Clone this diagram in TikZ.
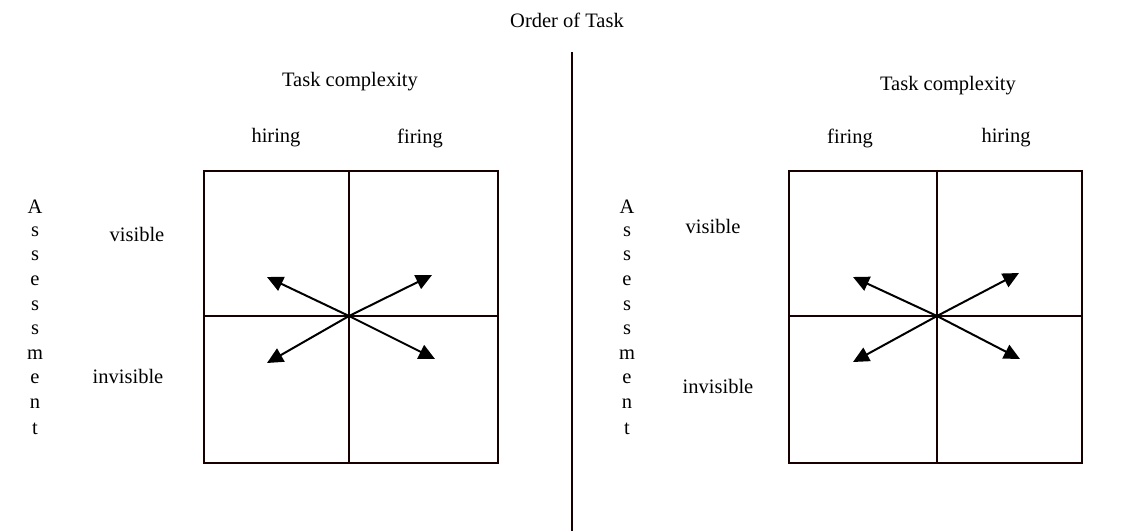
\documentclass[tikz,border=0pt]{standalone}
\usepackage{fontspec}
\setmainfont{Liberation Serif}
\usetikzlibrary{arrows.meta}
\begin{document}
\begin{tikzpicture}[x=1pt,y=-1pt,
  grid/.style={draw=black!90!red, line width=1.5pt},
  vec/.style={line width=2pt, -{Triangle[length=16pt,width=15pt]}},
  lbl/.style={font=\fontsize{20.5}{24}\selectfont, inner sep=0pt}]
\useasboundingbox (0,0) rectangle (1134,531);
% title and separator
\node[lbl] (title) at (567,20) {Order of Task};
\coordinate (sepTop) at (572,52);
\coordinate (sepBot) at (572,531);
\draw[grid] (sepTop) -- (sepBot);

% ---- left panel ----
\node[lbl] (tcL) at (350,82) {Task complexity};
\node[lbl] (hL) at (276,138) {hiring};
\node[lbl] (fL) at (420,138) {firing};
\node[lbl] (visL) at (137,234) {visible};
\node[lbl] (invL) at (128,376) {invisible};
\foreach \ch [count=\i from 0] in {A,s,s,e,s,s,m,e,n,t}
  \node[lbl] (asL\i) at (35,{207+\i*24.6}) {\ch};
\draw[grid] (204,171) rectangle (498,463);
\draw[grid] (349,171) -- (349,463);
\draw[grid] (204,316) -- (498,316);
\coordinate (cL) at (349,316);
\coordinate (ulL) at (267,277);
\coordinate (urL) at (432,275);
\coordinate (llL) at (267,363);
\coordinate (lrL) at (435,359);
\foreach \t in {ulL,urL,llL,lrL} \draw[vec] (cL) -- (\t);

% ---- right panel ----
\node[lbl] (tcR) at (948,86) {Task complexity};
\node[lbl] (fR) at (850,138) {firing};
\node[lbl] (hR) at (1006,138) {hiring};
\node[lbl] (visR) at (713,226) {visible};
\node[lbl] (invR) at (718,386) {invisible};
\foreach \ch [count=\i from 0] in {A,s,s,e,s,s,m,e,n,t}
  \node[lbl] (asR\i) at (627,{207+\i*24.6}) {\ch};
\draw[grid] (789,171) rectangle (1082,463);
\draw[grid] (937,171) -- (937,463);
\draw[grid] (789,316) -- (1082,316);
\coordinate (cR) at (937,316);
\coordinate (ulR) at (853,277);
\coordinate (urR) at (1019,273);
\coordinate (llR) at (853,362);
\coordinate (lrR) at (1020,359);
\foreach \t in {ulR,urR,llR,lrR} \draw[vec] (cR) -- (\t);
\end{tikzpicture}
\end{document}
